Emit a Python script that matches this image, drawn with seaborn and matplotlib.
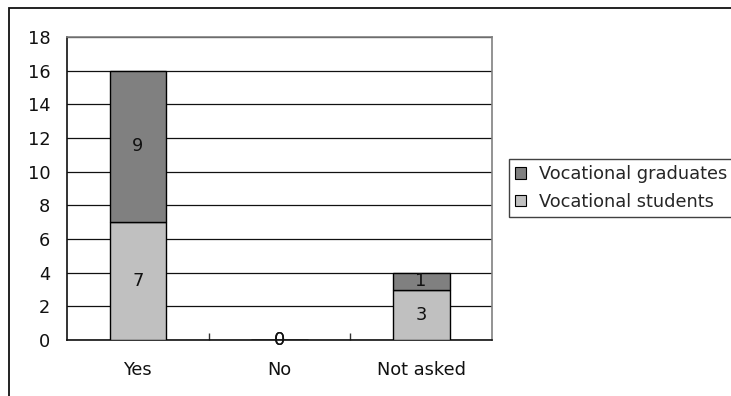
import matplotlib
matplotlib.use("Agg")
import matplotlib.pyplot as plt
from matplotlib.patches import Rectangle, Patch
import seaborn as sns
import pandas as pd

# Answers per group
categories = ["Yes", "No", "Not asked"]
students = [7, 0, 3]
graduates = [9, 0, 1]
series_names = ["Vocational graduates", "Vocational students"]
yticks = [0, 2, 4, 6, 8, 10, 12, 14, 16, 18]

df = pd.DataFrame({"answer": categories, "students": students, "graduates": graduates})

sns.set_theme(style="white")
plt.rcParams["font.family"] = ["DejaVu Sans"]

light = "#c0c0c0"
dark = "#808080"
fs = 12.8

fig = plt.figure(figsize=(7.31, 3.96), dpi=100)
fig.patch.set_facecolor("white")
ax = fig.add_axes([67 / 731, 1 - 340 / 396, (492 - 67) / 731, (340 - 37) / 396])

# Outer frame around the whole chart
fig.patches.append(Rectangle((8.5 / 731, -0.1), 1.2, 1 - 7.5 / 396 + 0.1,
                             transform=fig.transFigure, fill=False,
                             edgecolor="#111111", linewidth=1.3, zorder=0))

sns.barplot(data=df, x="answer", y="students", order=categories, color=light,
            edgecolor="black", linewidth=1.0, width=0.4, errorbar=None,
            saturation=1, ax=ax, zorder=3)
sns.barplot(data=df, x="answer", y="graduates", order=categories, color=dark,
            edgecolor="black", linewidth=1.0, width=0.4, errorbar=None,
            saturation=1, ax=ax, zorder=3, bottom=df["students"].values)

for cont in ax.containers:
    ax.bar_label(cont, label_type="center", fontsize=fs, color="#111111")

ax.set_xlim(-0.5, 2.5)
ax.set_ylim(0, 18)
ax.set_yticks(yticks)
ax.set_yticklabels([str(v) for v in yticks], fontsize=fs, color="#111111")
ax.set_xticks(range(len(categories)))
ax.set_xticklabels(categories, fontsize=fs, color="#111111")
ax.set_xlabel("")
ax.set_ylabel("")
ax.set_xticks([0.5, 1.5], minor=True)
ax.tick_params(axis="x", which="major", bottom=True, length=0, pad=15)
ax.tick_params(axis="x", which="minor", bottom=True, direction="in", length=5,
               width=1, color="#333333")
ax.tick_params(axis="y", length=0, pad=12)

ax.yaxis.grid(True, color="#111111", linewidth=0.9)
ax.set_axisbelow(True)
for side in ["left", "bottom"]:
    ax.spines[side].set_color("#111111")
    ax.spines[side].set_linewidth(1.2)
for side in ["top", "right"]:
    ax.spines[side].set_visible(True)
    ax.spines[side].set_color("#808080")
    ax.spines[side].set_linewidth(1.2)

handles = [Patch(facecolor=dark, edgecolor="black", linewidth=0.8),
           Patch(facecolor=light, edgecolor="black", linewidth=0.8)]
leg = fig.legend(handles, series_names, loc="upper left",
                 bbox_to_anchor=(509 / 731, 1 - 159 / 396), fontsize=fs,
                 frameon=True, fancybox=False, borderpad=0.35,
                 handlelength=0.6, handleheight=0.6, handletextpad=0.75,
                 labelspacing=0.55, borderaxespad=0)
leg.get_frame().set_edgecolor("#111111")
leg.get_frame().set_linewidth(1.0)

fig.savefig("out.png", dpi=100, facecolor="white")
